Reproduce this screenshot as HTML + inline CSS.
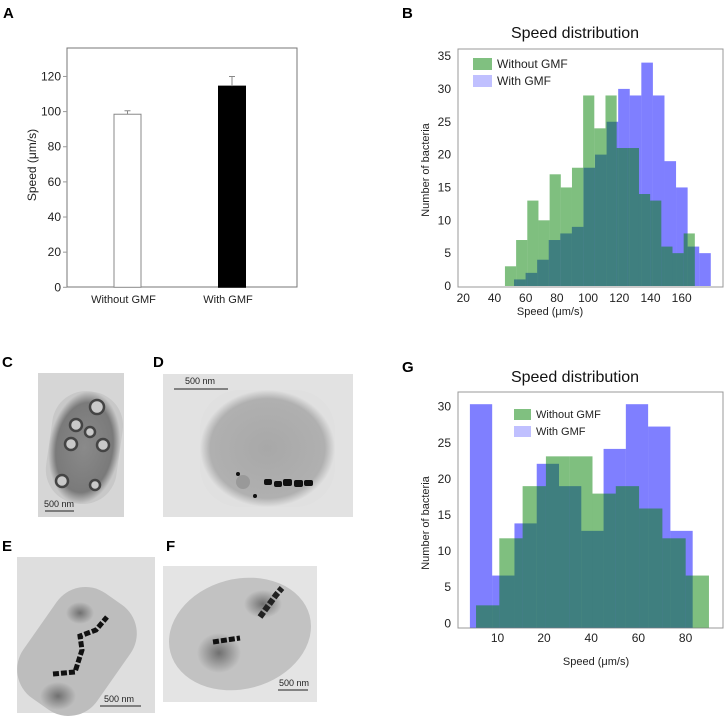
<!DOCTYPE html>
<html><head><meta charset="utf-8"><style>
body{margin:0;background:#fff}
svg{display:block;font-family:"Liberation Sans",sans-serif}
</style></head><body>
<svg id="fig" width="726" height="716" viewBox="0 0 726 716" xmlns="http://www.w3.org/2000/svg">
<defs>
<radialGradient id="cellC" cx="50%" cy="50%" r="50%"><stop offset="0" stop-color="#8a8a8a"/><stop offset="0.8" stop-color="#7a7a7a"/><stop offset="1" stop-color="#c8c8c8"/></radialGradient>
<radialGradient id="cellD" cx="50%" cy="50%" r="50%"><stop offset="0" stop-color="#a8a8a8"/><stop offset="0.85" stop-color="#b0b0b0"/><stop offset="1" stop-color="#e0e0e0"/></radialGradient>
<radialGradient id="blob" cx="50%" cy="50%" r="50%"><stop offset="0" stop-color="#707070"/><stop offset="1" stop-color="#707070" stop-opacity="0"/></radialGradient>
</defs>
<g font-weight="bold" font-size="15" fill="#000">
<text x="3" y="18">A</text>
<text x="402" y="18">B</text>
<text x="2" y="367">C</text>
<text x="153" y="367">D</text>
<text x="2" y="551">E</text>
<text x="166" y="551">F</text>
<text x="402" y="372">G</text>
</g>
<g id="panelA"></g>
<g id="panelB"></g>
<g id="panelG"></g>

<g>
<rect x="38" y="373" width="86" height="144" fill="#d6d6d6"/>
<rect x="49" y="391" width="71" height="113" rx="34" fill="url(#cellC)" transform="rotate(8 84 447)"/>
<g fill="#c9c9c9" stroke="#444" stroke-width="2.5">
<circle cx="97" cy="407" r="7"/><circle cx="90" cy="432" r="5"/><circle cx="71" cy="444" r="6"/><circle cx="103" cy="445" r="6"/><circle cx="62" cy="481" r="6"/><circle cx="95" cy="485" r="5"/><circle cx="76" cy="425" r="6"/>
</g>
<line x1="45" y1="511" x2="74" y2="511" stroke="#222"/><text x="44" y="507" font-size="9" fill="#222">500 nm</text>
</g>
<g>
<rect x="163" y="374" width="190" height="143" fill="#e2e2e2"/>
<rect x="200" y="390" width="135" height="117" rx="40" fill="url(#cellD)"/>
<g fill="#111"><rect x="264" y="479" width="8" height="6" rx="2"/><rect x="274" y="481" width="8" height="6" rx="2"/><rect x="283" y="479" width="9" height="7" rx="2"/><rect x="294" y="480" width="9" height="7" rx="2"/><rect x="304" y="480" width="9" height="6" rx="2"/><circle cx="238" cy="474" r="2"/><circle cx="255" cy="496" r="2"/></g>
<circle cx="243" cy="482" r="7" fill="#999"/>
<line x1="174" y1="389" x2="228" y2="389" stroke="#222"/><text x="185" y="384" font-size="9" fill="#222">500 nm</text>
</g>
<g>
<rect x="17" y="557" width="138" height="156" fill="#dedede"/>
<rect x="40" y="590" width="90" height="128" rx="35" fill="#bdbdbd" transform="rotate(35 85 640)"/>
<ellipse cx="80" cy="613" rx="14" ry="11" fill="url(#blob)"/><ellipse cx="58" cy="696" rx="18" ry="14" fill="url(#blob)"/>
<polyline points="53,674 75,672 82,650 80,636 96,630 107,617" fill="none" stroke="#111" stroke-width="5" stroke-dasharray="6 2"/>
<line x1="100" y1="706" x2="141" y2="706" stroke="#222"/><text x="104" y="702" font-size="9" fill="#222">500 nm</text>
</g>
<g>
<rect x="163" y="566" width="154" height="136" fill="#e4e4e4"/>
<ellipse cx="240" cy="634" rx="72" ry="55" fill="#c2c2c2" transform="rotate(-15 240 634)"/>
<ellipse cx="263" cy="604" rx="19" ry="14" fill="url(#blob)"/><ellipse cx="219" cy="653" rx="22" ry="20" fill="url(#blob)"/>
<polyline points="213,642 240,638" fill="none" stroke="#111" stroke-width="5" stroke-dasharray="6 2"/>
<polyline points="260,617 276,595 282,588" fill="none" stroke="#222" stroke-width="6" stroke-dasharray="6 2"/>
<line x1="278" y1="690" x2="308" y2="690" stroke="#222"/><text x="279" y="686" font-size="9" fill="#222">500 nm</text>
</g>
</svg>
<script>
const NS="http://www.w3.org/2000/svg";
// Panel A data
const aCategories=["Without GMF","With GMF"];
const aValues=[98.5,114.5];
const aErrors=[2,5.5];
const aTicks=[0,20,40,60,80,100,120];
// Panel B data
const bGreenStart=46.7, bGreenWidth=7.16;
const bGreen=[3,7,13,10,17,15,18,29,24,29,21,21,14,13,6,5,8];
const bBlueStart=52.5, bBlueWidth=7.42;
const bBlue=[1,2,4,7,8,9,18,20,25,30,29,34,29,19,15,6,5];
const bYTicks=[0,5,10,15,20,25,30,35];
const bXTicks=[20,40,60,80,100,120,140,160];
const bXTickLabels=["20","40","60","80","100","120","140","160"];
// Panel G data
const gGreenStart=-8.8, gGreenWidth=9.87;
const gGreen=[3,12,19,23,23,18,19,16,12,7];
const gBlueStart=-11.4, gBlueWidth=9.44;
const gBlue=[30,7,14,22,19,13,24,30,27,13];
const gYTicks=[0,5,10,15,20,25,30];
const gXTicks=[0.3,20,40,60,80];
const gXTickLabels=["10","20","40","60","80"];

function mk(parent,tag,attrs,text){const e=document.createElementNS(NS,tag);for(const k in attrs)e.setAttribute(k,attrs[k]);if(text!==undefined)e.textContent=text;parent.appendChild(e);return e;}

(function(){
const g=document.getElementById('panelA');
const y=v=>287.3-v*1.757;
const box=mk(g,'rect',{x:67,y:48,width:230,height:239,fill:'none',stroke:'#777','stroke-width':1});


aTicks.forEach(t=>{
 const tk=mk(g,'line',{x1:63,x2:67,y1:y(t),y2:y(t),stroke:'#999'});
 
 
 const l=mk(g,'text',{x:61,y:y(t)+4,'font-size':12,'text-anchor':'end',fill:'#222'},String(t));
 
 
});
const centers=[127.5,232];
aCategories.forEach((c,i)=>{
 const b=mk(g,'rect',{x:centers[i]-13.5,y:y(aValues[i]),width:27,height:287.3-y(aValues[i]),fill:i?'#000':'#fff',stroke:i?'#000':'#888'});
 
 
 const e=mk(g,'path',{d:`M${centers[i]} ${y(aValues[i])} V${y(aValues[i]+aErrors[i])} M${centers[i]-3} ${y(aValues[i]+aErrors[i])} H${centers[i]+3}`,stroke:'#888',fill:'none'});
 
 
 const l=mk(g,'text',{x:centers[i]-4,y:303,'font-size':11,'text-anchor':'middle',fill:'#222'},c);
 
 
});
const yt=mk(g,'text',{x:0,y:0,'font-size':12,'text-anchor':'middle',fill:'#222',transform:'translate(36,165) rotate(-90)'},'Speed (μm/s)');


})();

function hist(gid,o){
 const g=document.getElementById(gid);
 const X=v=>o.x0+(v-o.xv0)*o.sx, Y=v=>o.y0-v*o.sy;
 const t=mk(g,'text',{x:575,y:o.titleY,'font-size':16,'text-anchor':'middle',fill:'#111'},'Speed distribution');
 
 
 const fr=mk(g,'rect',{x:o.box[0],y:o.box[1],width:o.box[2]-o.box[0],height:o.box[3]-o.box[1],fill:'#fff',stroke:'#999'});
 
 
 o.blue.forEach((v,i)=>{
  const r=mk(g,'rect',{x:X(o.bs+i*o.bw),y:Y(v),width:o.bw*o.sx,height:v*o.sy,fill:'rgba(0,0,255,0.5)'});
  
  
 });
 o.green.forEach((v,i)=>{
  const r=mk(g,'rect',{x:X(o.gs+i*o.gw),y:Y(v),width:o.gw*o.sx,height:v*o.sy,fill:'rgba(0,128,0,0.5)'});
  
  
 });
 o.yt.forEach(v=>{
  const l=mk(g,'text',{x:o.box[0]-7,y:o.ylab(v)+4,'font-size':12,'text-anchor':'end',fill:'#222'},String(v));
  
  
 });
 o.xt.forEach((v,i)=>{
  const l=mk(g,'text',{x:X(v),y:o.xlabY,'font-size':12,'text-anchor':'middle',fill:'#222'},o.xtl[i]);
  
  
 });
 const yl=mk(g,'text',{x:0,y:0,'font-size':11,'text-anchor':'middle',fill:'#222',transform:`translate(${o.yTitleX},${o.yTitleY}) rotate(-90)`},'Number of bacteria');
 
 
 const xl=mk(g,'text',{x:o.xTitleX,y:o.xTitleY,'font-size':11,'text-anchor':'middle',fill:'#222'},'Speed (μm/s)');
 
 
 const L=o.leg;
 const s1=mk(g,'rect',{x:L[0],y:L[1],width:L[2],height:L[3],fill:'#80c080'});
 
 
 const t1=mk(g,'text',{x:L[0]+L[2]+5,y:L[1]+L[3]-2,'font-size':L[5],fill:'#222'},'Without GMF');
 
 
 const s2=mk(g,'rect',{x:L[0],y:L[1]+L[4],width:L[2],height:L[3],fill:'#c0c0ff'});
 
 
 const t2=mk(g,'text',{x:L[0]+L[2]+5,y:L[1]+L[4]+L[3]-2,'font-size':L[5],fill:'#222'},'With GMF');
 
 
}
hist('panelB',{box:[458,49,723,287],x0:463.3,xv0:20,sx:1.56,y0:286,sy:6.57,titleY:38,
 blue:bBlue,bs:bBlueStart,bw:bBlueWidth,green:bGreen,gs:bGreenStart,gw:bGreenWidth,
 yt:bYTicks,xt:bXTicks,xtl:bXTickLabels,ylab:v=>286-v*6.57,xlabY:302,yTitleX:429,yTitleY:170,xTitleX:550,xTitleY:315,
 leg:[473,58,19,12,17,12]});
hist('panelG',{box:[458,392,723,628],x0:544,xv0:20,sx:2.36,y0:627.7,sy:7.45,titleY:382,
 blue:gBlue,bs:gBlueStart,bw:gBlueWidth,green:gGreen,gs:gGreenStart,gw:gGreenWidth,
 yt:gYTicks,xt:gXTicks,xtl:gXTickLabels,ylab:v=>623.3-v*7.22,xlabY:642,yTitleX:429,yTitleY:523,xTitleX:596,xTitleY:665,
 leg:[514,409,17,11,17,11]});
</script>
</body></html>
